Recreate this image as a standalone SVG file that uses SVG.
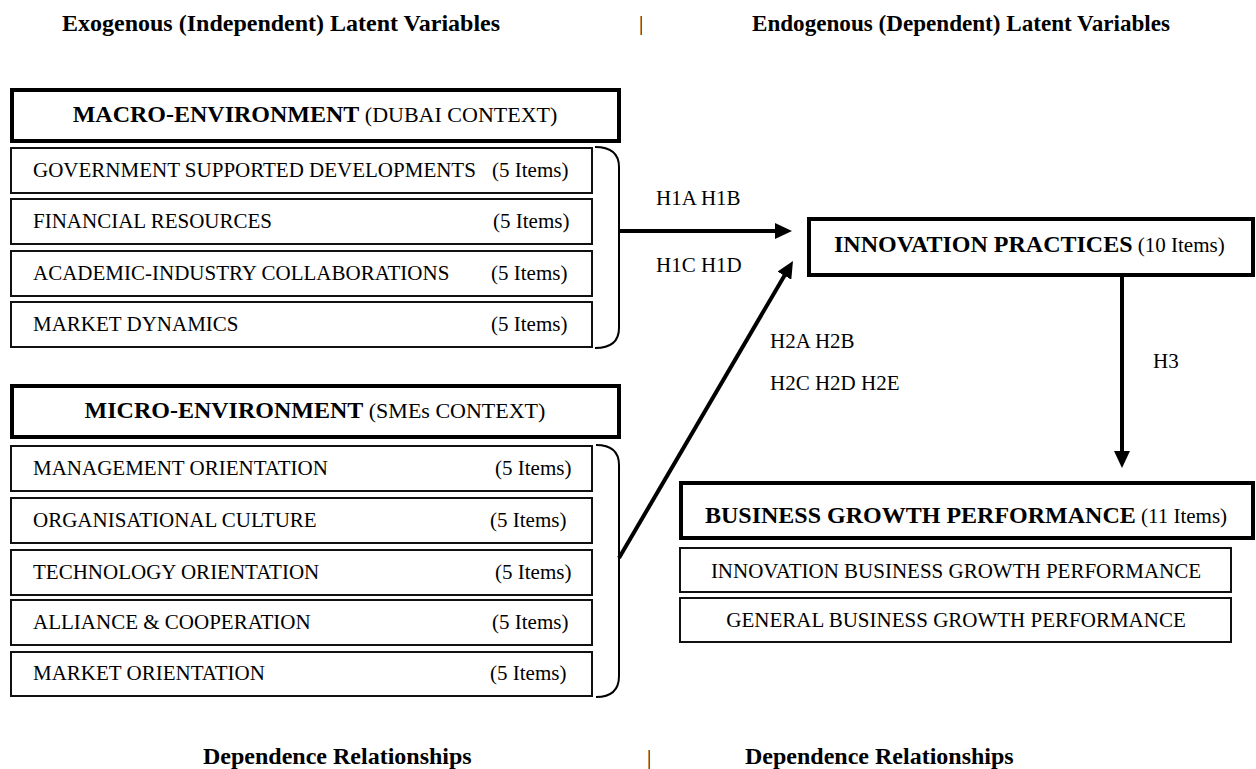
<svg xmlns="http://www.w3.org/2000/svg" width="1256" height="769" viewBox="0 0 1256 769">
<style>
text{font-family:"Liberation Serif","Times New Roman",serif;fill:#000}
.hd{font-size:24px;font-weight:bold}
.t{font-size:21px}
.b{font-weight:bold;font-size:24px}
.r{font-size:22px}
.ri{font-size:21px}
.box{fill:#fff;stroke:#000;stroke-width:4}
.item{fill:#fff;stroke:#111;stroke-width:2}
.brace{fill:none;stroke:#000;stroke-width:2}
.arr{fill:none;stroke:#000;stroke-width:4}
</style>
<defs>
<marker id="ah" markerUnits="userSpaceOnUse" markerWidth="17" markerHeight="16" refX="2" refY="8" orient="auto">
<path d="M0,0 L17,8 L0,16 z" fill="#000"/>
</marker>
</defs>
<rect width="1256" height="769" fill="#fff"/>
<g id="headers">
<text class="hd" x="62" y="31">Exogenous (Independent) Latent Variables</text>
<text class="t" x="641" y="30" text-anchor="middle">|</text>
<text class="hd" x="752" y="31" textLength="418" lengthAdjust="spacingAndGlyphs">Endogenous (Dependent) Latent Variables</text>
</g>
<g id="macro">
<rect class="box" x="12" y="90" width="607" height="51"/>
<text x="315" y="122" text-anchor="middle"><tspan class="b">MACRO-ENVIRONMENT</tspan><tspan class="r"> (DUBAI CONTEXT)</tspan></text>
</g>
<g id="macro-items">
<g id="gsd"><rect class="item" x="11" y="148" width="581" height="45"/><text class="t" x="33" y="177">GOVERNMENT SUPPORTED DEVELOPMENTS</text><text class="t" x="492" y="177">(5 Items)</text></g>
<g id="fr"><rect class="item" x="11" y="199" width="581" height="45"/><text class="t" x="33" y="228">FINANCIAL RESOURCES</text><text class="t" x="493" y="228">(5 Items)</text></g>
<g id="aic"><rect class="item" x="11" y="251" width="581" height="45"/><text class="t" x="33" y="280">ACADEMIC-INDUSTRY COLLABORATIONS</text><text class="t" x="491" y="280">(5 Items)</text></g>
<g id="md"><rect class="item" x="11" y="302" width="581" height="45"/><text class="t" x="33" y="331">MARKET DYNAMICS</text><text class="t" x="491" y="331">(5 Items)</text></g>
</g>
<g id="micro">
<rect class="box" x="12" y="386" width="607" height="51"/>
<text x="315" y="418" text-anchor="middle"><tspan class="b">MICRO-ENVIRONMENT</tspan><tspan class="r"> (SMEs CONTEXT)</tspan></text>
</g>
<g id="micro-items">
<g id="mo"><rect class="item" x="11" y="446" width="581" height="45"/><text class="t" x="33" y="475">MANAGEMENT ORIENTATION</text><text class="t" x="495" y="475">(5 Items)</text></g>
<g id="oc"><rect class="item" x="11" y="498" width="581" height="45"/><text class="t" x="33" y="527">ORGANISATIONAL CULTURE</text><text class="t" x="490" y="527">(5 Items)</text></g>
<g id="to"><rect class="item" x="11" y="550" width="581" height="45"/><text class="t" x="33" y="579">TECHNOLOGY ORIENTATION</text><text class="t" x="495" y="579">(5 Items)</text></g>
<g id="ac"><rect class="item" x="11" y="600" width="581" height="45"/><text class="t" x="33" y="629">ALLIANCE &amp; COOPERATION</text><text class="t" x="492" y="629">(5 Items)</text></g>
<g id="mko"><rect class="item" x="11" y="652" width="581" height="44"/><text class="t" x="33" y="680">MARKET ORIENTATION</text><text class="t" x="490" y="680">(5 Items)</text></g>
</g>
<g id="innovation">
<rect class="box" x="809" y="219" width="444" height="56"/>
<text x="834" y="252"><tspan class="b">INNOVATION PRACTICES</tspan><tspan class="ri"> (10 Items)</tspan></text>
</g>
<g id="business">
<rect class="box" x="681" y="483" width="572" height="55"/>
<text x="705" y="523"><tspan class="b">BUSINESS GROWTH PERFORMANCE</tspan><tspan class="ri"> (11 Items)</tspan></text>
</g>
<g id="business-items">
<g id="ibgp"><rect class="item" x="680" y="548" width="551" height="44"/><text class="t" x="956" y="578" text-anchor="middle">INNOVATION BUSINESS GROWTH PERFORMANCE</text></g>
<g id="gbgp"><rect class="item" x="680" y="598" width="551" height="44"/><text class="t" x="956" y="627" text-anchor="middle">GENERAL BUSINESS GROWTH PERFORMANCE</text></g>
</g>
<g id="connectors">
<path class="brace" d="M595,147 Q619,147 619,167 L619,328 Q619,348 595,348"/>
<path class="brace" d="M596,445 Q619,445 619,465 L619,676 Q619,697 596,697"/>
<line class="arr" x1="618" y1="231" x2="777" y2="231" marker-end="url(#ah)"/>
<line class="arr" x1="619" y1="558" x2="785.4" y2="273.9" marker-end="url(#ah)"/>
<line class="arr" x1="1122" y1="277" x2="1122" y2="453" marker-end="url(#ah)"/>
<text class="t" x="656" y="205">H1A H1B</text>
<text class="t" x="656" y="272">H1C H1D</text>
<text class="t" x="770" y="348">H2A H2B</text>
<text class="t" x="770" y="390">H2C H2D H2E</text>
<text class="t" x="1153" y="368">H3</text>
</g>
<g id="footers">
<text class="hd" x="203" y="764">Dependence Relationships</text>
<text class="t" x="649" y="764" text-anchor="middle">|</text>
<text class="hd" x="745" y="764">Dependence Relationships</text>
</g>
</svg>
